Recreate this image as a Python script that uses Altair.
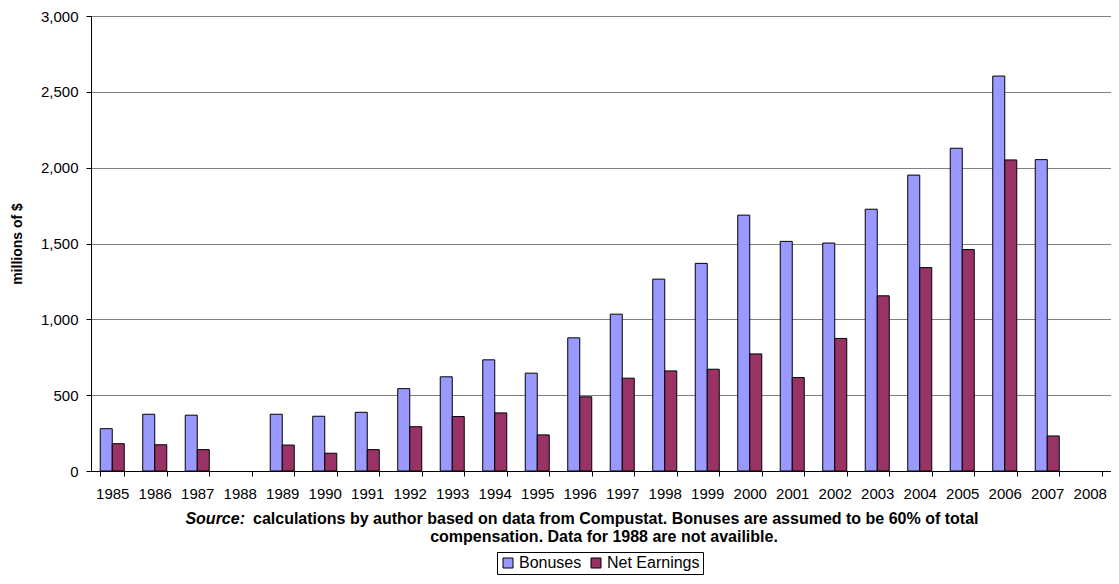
import altair as alt
import pandas as pd

years = ["1985", "1986", "1987", "1988", "1989", "1990", "1991", "1992",
         "1993", "1994", "1995", "1996", "1997", "1998", "1999", "2000",
         "2001", "2002", "2003", "2004", "2005", "2006", "2007", "2008"]
bonuses = [279, 374, 368, None, 374, 361, 387, 543, 621, 733, 645, 878,
           1034, 1265, 1369, 1687, 1514, 1503, 1726, 1951, 2128, 2604, 2053, None]
net_earnings = [180, 173, 141, None, 171, 117, 141, 292, 359, 383, 238, 489,
                612, 660, 671, 772, 616, 874, 1155, 1341, 1460, 2051, 231, None]
series_names = ["Bonuses", "Net Earnings"]
series_colors = ["#9999FF", "#993366"]
y_ticks = [0, 500, 1000, 1500, 2000, 2500, 3000]

source_label = ["Source:"]
source_line1 = ["calculations by author based on data from Compustat. Bonuses are assumed to be 60% of total"]
source_line2 = ["compensation. Data for 1988 are not availible."]

rows = []
for yr, b, n in zip(years, bonuses, net_earnings):
    if b is not None:
        rows.append({"year": yr, "series": series_names[0], "value": b})
    if n is not None:
        rows.append({"year": yr, "series": series_names[1], "value": n})
df = pd.DataFrame(rows)

W, H = 1020, 455
FONT = "Liberation Sans"

bars = alt.Chart(df).mark_bar(stroke="black", strokeWidth=1).encode(
    x=alt.X("year:N", sort=years,
            scale=alt.Scale(domain=years, paddingInner=0.435, paddingOuter=0.2175),
            axis=alt.Axis(title=None, labelAngle=0, tickBand="extent", labelPadding=10,
                          labelFontSize=15, tickSize=5, grid=False)),
    xOffset=alt.XOffset("series:N", sort=series_names,
                        scale=alt.Scale(paddingInner=0, paddingOuter=0)),
    y=alt.Y("value:Q", scale=alt.Scale(domain=[0, 3000], nice=False),
            axis=alt.Axis(title="millions of $", values=y_ticks, format=",.0f",
                          labelFontSize=15, labelPadding=8, tickSize=5,
                          grid=True, gridColor="#808080", gridWidth=1,
                          titleFontSize=14, titleFontWeight="bold",
                          titleX=-74, titleY=H / 2, titleAngle=270,
                          titleAlign="center", titleBaseline="middle")),
    color=alt.Color("series:N", sort=series_names,
                    scale=alt.Scale(domain=series_names, range=series_colors),
                    legend=alt.Legend(title=None, orient="none", legendX=406, legendY=536,
                                      direction="horizontal", symbolType="square",
                                      symbolSize=100, symbolStrokeColor="black",
                                      symbolStrokeWidth=1, labelFontSize=16,
                                      strokeColor="black", padding=3,
                                      columnPadding=6, labelOffset=3)),
)

t0 = alt.Chart(pd.DataFrame({"t": source_label})).mark_text(
    align="right", baseline="middle", fontSize=16, fontWeight="bold",
    fontStyle="italic", font=FONT, color="black"
).encode(x=alt.value(154), y=alt.value(503), text="t:N")

t1 = alt.Chart(pd.DataFrame({"t": source_line1})).mark_text(
    align="left", baseline="middle", fontSize=16, fontWeight="bold",
    font=FONT, color="black"
).encode(x=alt.value(162), y=alt.value(503), text="t:N")

t2 = alt.Chart(pd.DataFrame({"t": source_line2})).mark_text(
    align="center", baseline="middle", fontSize=16, fontWeight="bold",
    font=FONT, color="black"
).encode(x=alt.value(513), y=alt.value(521), text="t:N")

chart = alt.layer(bars, t0, t1, t2).properties(
    width=W, height=H,
    autosize=alt.AutoSizeParams(type="none"),
    padding={"left": 83, "top": 8, "right": 0, "bottom": 105},
).configure(font=FONT).configure_view(
    stroke="#808080", strokeWidth=1
).configure_axis(
    domainColor="black", tickColor="black", labelColor="black", titleColor="black",
    labelFont=FONT, titleFont=FONT
).configure_legend(labelFont=FONT, labelColor="black")

chart.save("out.html", embed_options={"renderer": "svg", "actions": False})
